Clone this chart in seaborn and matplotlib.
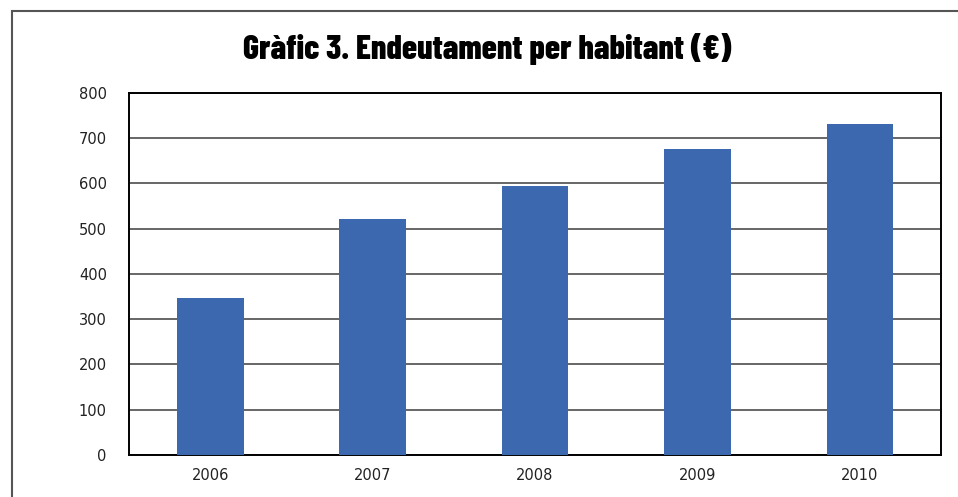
import matplotlib
matplotlib.use("Agg")
import matplotlib.pyplot as plt
import seaborn as sns
import pandas as pd
from matplotlib.patches import Rectangle

# ── data ──────────────────────────────────────────
years = ["2006", "2007", "2008", "2009", "2010"]
debt_per_capita = [347, 522, 595, 677, 732]
y_ticks = [0, 100, 200, 300, 400, 500, 600, 700, 800]

df = pd.DataFrame({"year": years, "value": debt_per_capita})

sns.set_style("white")
plt.rcParams["font.family"] = ["DejaVu Sans"]

fig = plt.figure(figsize=(9.58, 4.97), dpi=100)
ax = fig.add_axes([0.1347, 0.0845, 0.8476, 0.7284])

sns.barplot(data=df, x="year", y="value", color="#3C68B0",
            saturation=1, width=0.41, linewidth=0, ax=ax, zorder=3)

ax.set_xlim(-0.5, len(years) - 0.5)
ax.set_ylim(0, 800)
ax.set_yticks(y_ticks)
ax.yaxis.grid(True, color="#5a5a5a", linewidth=1.3, zorder=0)
ax.set_axisbelow(True)

# tick marks between categories
ax.set_xticks([i - 0.5 for i in range(len(years) + 1)], minor=True)
ax.tick_params(axis="x", which="major", length=0, pad=9, labelsize=10.5, labelcolor="#222222")
ax.tick_params(axis="x", which="minor", length=8, width=1.2, color="black")
ax.tick_params(axis="y", length=8, width=1.2, color="#444444", pad=8,
               labelsize=10.5, labelcolor="#222222")
ax.set_xlabel("")
ax.set_ylabel("")

for s in ax.spines.values():
    s.set_visible(True)
    s.set_color("black")
    s.set_linewidth(1.4)

fig.text(0.509, 0.902, "Gràfic 3. Endeutament per habitant (€)",
         ha="center", va="center", fontsize=24.5, fontweight=800, color="black",
         family=["Barlow Condensed", "Francois One", "DejaVu Sans"])

# outer frame, cut off at right and bottom
frame = Rectangle((12 / 958, -0.1), 1.2, 1.1 - 11 / 497, transform=fig.transFigure,
                  fill=False, edgecolor="#555555", linewidth=1.5)
fig.patches.append(frame)

fig.savefig("out.png", dpi=100)
